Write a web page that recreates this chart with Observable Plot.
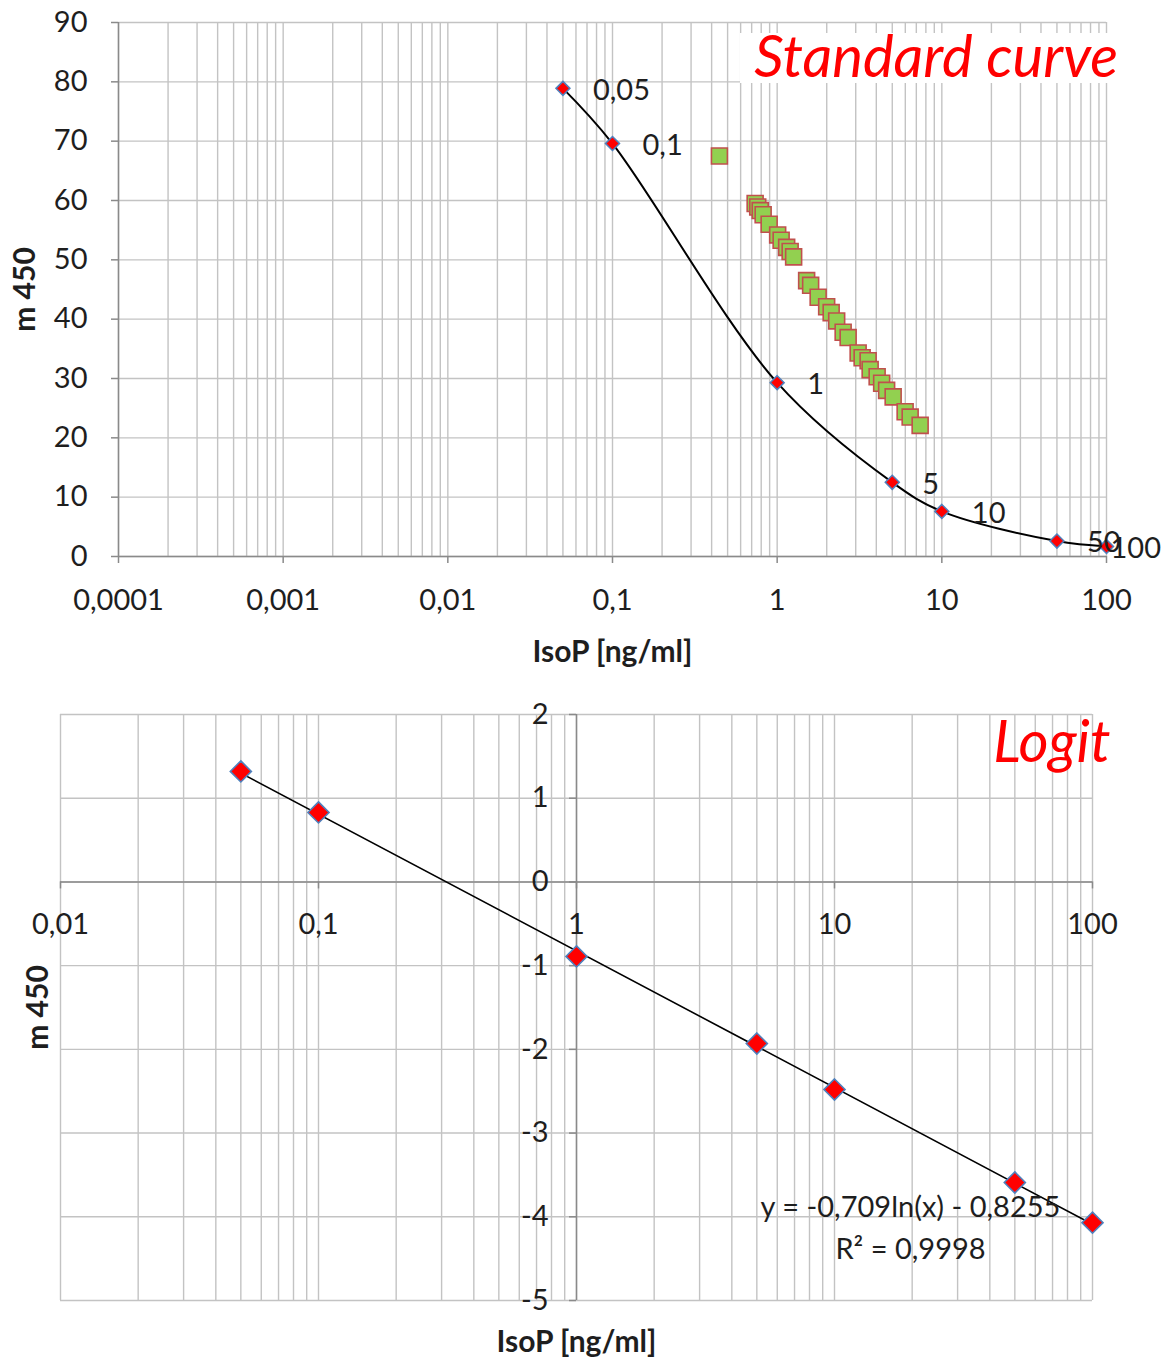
<!DOCTYPE html>
<html><head><meta charset="utf-8">
<script src="https://cdn.jsdelivr.net/npm/d3@7"></script>
<script src="https://cdn.jsdelivr.net/npm/@observablehq/plot@0.6"></script>
<style>
html,body{margin:0;padding:0;background:#fff;}
#wrap{position:relative;width:1176px;height:1360px;font-family:Lato,"Open Sans",sans-serif;}
#wrap svg{display:block;}
#title1{position:absolute;left:740px;top:33px;width:378px;height:50px;background:#fff;color:#ff0000;font:italic 58px Lato,sans-serif;line-height:43px;text-align:right;white-space:nowrap;}
</style></head>
<body>
<div id="wrap">
  <div id="top"></div>
  <div id="bottom"></div>
  <div id="title1">Standard curve</div>
</div>
<script>
// ---------- data ----------
const stdConc = [0.05, 0.1, 1, 5, 10, 50, 100];
const stdSignal = [78.9, 69.6, 29.3, 12.5, 7.6, 2.6, 1.7];
const stdLabels = ["0,05", "0,1", "1", "5", "10", "50", "100"];

const sampleConc = [0.446, 0.735, 0.762, 0.789, 0.822, 0.894, 1.007, 1.057, 1.142, 1.199, 1.259,
  1.510, 1.597, 1.774, 1.998, 2.128, 2.298, 2.516, 2.698, 3.103, 3.281, 3.568, 3.670, 4.047,
  4.311, 4.621, 5.063, 5.986, 6.422, 7.384];
const sampleSignal = [67.5, 59.5, 58.9, 58.3, 57.6, 56.0, 54.2, 53.3, 52.1, 51.4, 50.5,
  46.5, 45.7, 43.7, 42.1, 41.1, 39.7, 37.8, 36.9, 34.3, 33.5, 33.0, 31.5, 30.3,
  29.2, 28.0, 26.9, 24.4, 23.5, 22.1];

const topYTicks = [0, 10, 20, 30, 40, 50, 60, 70, 80, 90];
const topYLabels = ["0", "10", "20", "30", "40", "50", "60", "70", "80", "90"];
const topXTicks = [0.0001, 0.001, 0.01, 0.1, 1, 10, 100];
const topXLabels = ["0,0001", "0,001", "0,01", "0,1", "1", "10", "100"];

const logitConc = [0.05, 0.1, 1, 5, 10, 50, 100];
const logitValue = [1.32, 0.83, -0.89, -1.93, -2.48, -3.59, -4.07];
const trendConc = [0.05, 100];
const trendValue = [1.30, -4.09];
const equationText = "y = -0,709ln(x) - 0,8255\nR\u00b2 = 0,9998";

const botYTicks = [-5, -4, -3, -2, -1, 0, 1, 2];
const botYLabels = ["-5", "-4", "-3", "-2", "-1", "0", "1", "2"];
const botXTicks = [0.01, 0.1, 1, 10, 100];
const botXLabels = ["0,01", "0,1", "1", "10", "100"];

const yTitle = "m 450";
const xTitle = "IsoP [ng/ml]";

// ---------- tables ----------
const std = stdConc.map((c, i) => ({c, s: stdSignal[i], label: stdLabels[i]}));
const samples = sampleConc.map((c, i) => ({c, s: sampleSignal[i]}));
const logit = logitConc.map((c, i) => ({c, v: logitValue[i]}));
const trend = trendConc.map((c, i) => ({c, v: trendValue[i]}));

const GRID = "#c3c3c3";
const AXIS = "#8a8a8a";
const TXT = "#1e1e1e";
const FONT = "Lato, 'Open Sans', sans-serif";
const TICK_FS = 29;
const TITLE_FS = 30;

const topMinor = d3.scaleLog().domain([0.0001, 100]).ticks();
const botMinor = d3.scaleLog().domain([0.01, 100]).ticks();

const topPlot = Plot.plot({
  width: 1176, height: 680,
  marginLeft: 118, marginRight: 70, marginTop: 22, marginBottom: 124,
  x: {type: "log", domain: [0.0001, 100], axis: null},
  y: {domain: [0, 90], axis: null},
  style: {fontFamily: FONT, fontSize: "25px", color: TXT, background: "transparent", overflow: "visible"},
  marks: [
    Plot.ruleX(topMinor, {stroke: GRID, strokeWidth: 1.4}),
    Plot.ruleY(topYTicks, {stroke: GRID, strokeWidth: 1.4}),
    Plot.ruleX([0.0001], {stroke: AXIS, strokeWidth: 1.5}),
    Plot.ruleY([0], {stroke: AXIS, strokeWidth: 1.5}),
    Plot.ruleX(topXTicks, {y1: 0, y2: 0, insetBottom: -7, stroke: AXIS, strokeWidth: 1.5}),
    Plot.ruleY(topYTicks, {x1: 0.0001, x2: 0.0001, insetLeft: -7, stroke: AXIS, strokeWidth: 1.5}),
    Plot.text(topYTicks, {y: d => d, text: (d, i) => topYLabels[i], frameAnchor: "left", textAnchor: "end", lineAnchor: "middle", dx: -31, fontSize: TICK_FS, fill: TXT}),
    Plot.text(topXTicks, {x: d => d, text: (d, i) => topXLabels[i], frameAnchor: "bottom", lineAnchor: "middle", textAnchor: "middle", dy: 44, fontSize: TICK_FS, fill: TXT}),
    Plot.line(std, {x: "c", y: "s", curve: "catmull-rom", stroke: "#000", strokeWidth: 2}),
    Plot.dot(samples, {x: "c", y: "s", symbol: "square", r: 9, fill: "#92d050", stroke: "#c0504d", strokeWidth: 1.6}),
    Plot.dot(std, {x: "c", y: "s", symbol: "diamond2", r: 6.3, fill: "#ff0000", stroke: "#4f81bd", strokeWidth: 1.5}),
    Plot.text(std.slice(0, -1), {x: "c", y: "s", text: "label", textAnchor: "start", lineAnchor: "middle", dx: 30, dy: 2, fontSize: TICK_FS, fill: TXT}),
    Plot.text(std.slice(-1), {x: "c", y: "s", text: "label", textAnchor: "start", lineAnchor: "middle", dx: 4, dy: 2, fontSize: TICK_FS, fill: TXT}),
    Plot.text([yTitle], {frameAnchor: "left", textAnchor: "middle", lineAnchor: "middle", dx: -93, rotate: -90, fontWeight: "bold", fontSize: TITLE_FS, fill: TXT}),
    Plot.text([xTitle], {frameAnchor: "bottom", textAnchor: "middle", lineAnchor: "middle", dy: 96, fontWeight: "bold", fontSize: TITLE_FS, fill: TXT})
  ]
});
document.getElementById("top").appendChild(topPlot);

const botPlot = Plot.plot({
  width: 1176, height: 680,
  marginLeft: 60, marginRight: 84, marginTop: 34, marginBottom: 60,
  x: {type: "log", domain: [0.01, 100], axis: null},
  y: {domain: [-5, 2], axis: null},
  style: {fontFamily: FONT, fontSize: "25px", color: TXT, background: "transparent", overflow: "visible"},
  marks: [
    Plot.ruleX(botMinor, {stroke: GRID, strokeWidth: 1.4}),
    Plot.ruleY(botYTicks, {stroke: GRID, strokeWidth: 1.4}),
    Plot.ruleY([0], {stroke: AXIS, strokeWidth: 1.5}),
    Plot.ruleX([1], {stroke: AXIS, strokeWidth: 1.5}),
    Plot.ruleX(botXTicks, {y1: 0, y2: 0, insetBottom: -7, stroke: AXIS, strokeWidth: 1.5}),
    Plot.ruleY(botYTicks, {x1: 1, x2: 1, insetLeft: -7, stroke: AXIS, strokeWidth: 1.5}),
    Plot.text(botXTicks, {x: d => d, y: () => 0, text: (d, i) => botXLabels[i], lineAnchor: "middle", dy: 43, fontSize: TICK_FS, fill: TXT}),
    Plot.text(botYTicks, {x: () => 1, y: d => d, text: (d, i) => botYLabels[i], textAnchor: "end", lineAnchor: "middle", dx: -28, fontSize: TICK_FS, fill: TXT}),
    Plot.line(trend, {x: "c", y: "v", stroke: "#000", strokeWidth: 1.6}),
    Plot.dot(logit, {x: "c", y: "v", symbol: "diamond2", r: 9.5, fill: "#ff0000", stroke: "#4f81bd", strokeWidth: 1.6}),
    Plot.text(["Logit"], {frameAnchor: "top-right", textAnchor: "end", lineAnchor: "middle", dx: 18, dy: 29, fontSize: 58, fontStyle: "italic", fill: "#ff0000"}),
    Plot.text([equationText], {frameAnchor: "bottom-right", textAnchor: "middle", lineAnchor: "middle", dx: -182, dy: -76, lineHeight: 1.45, fontSize: TICK_FS, fill: TXT}),
    Plot.text([yTitle], {frameAnchor: "left", textAnchor: "middle", lineAnchor: "middle", dx: -22, rotate: -90, fontWeight: "bold", fontSize: TITLE_FS, fill: TXT}),
    Plot.text([xTitle], {frameAnchor: "bottom", textAnchor: "middle", lineAnchor: "middle", dy: 42, fontWeight: "bold", fontSize: TITLE_FS, fill: TXT})
  ]
});
document.getElementById("bottom").appendChild(botPlot);
</script>
</body></html>
